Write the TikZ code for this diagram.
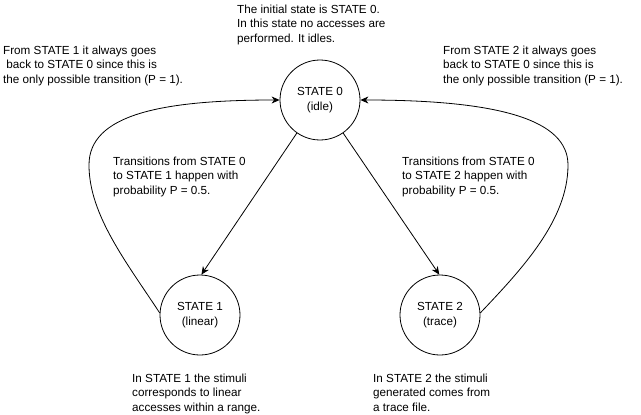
\documentclass[tikz,border=0pt]{standalone}
\usepackage{fontspec}
\setmainfont{Liberation Sans}
\usetikzlibrary{arrows.meta}
\begin{document}
\begin{tikzpicture}[x=1pt,y=-1pt,
  statenode/.style={draw,circle,minimum size=80pt,inner sep=0pt,line width=0.8pt,align=center,font=\fontsize{11.7}{14.5}\selectfont},
  note/.style={anchor=north west,inner sep=0pt,align=left,font=\fontsize{11.7}{14.3}\selectfont},
  arr/.style={line width=0.8pt,-{Stealth[length=8pt,width=7pt,inset=2.5pt]}}]
\useasboundingbox (0,0) rectangle (641,415);
\node[statenode] (s0) at (320,100) {STATE 0\\(idle)};
\node[statenode] (s1) at (200,315) {STATE 1\\(linear)};
\node[statenode] (s2) at (440,315) {STATE 2\\(trace)};
\node[note] (t0) at (237,5) {The initial state is STATE 0.\\In this state no accesses are\\performed. It idles.};
\node[note] (tl) at (3,46) {From STATE 1 it always goes\\\ back to STATE 0 since this is\\the only possible transition (P = 1).};
\node[note] (tr) at (443,46) {From STATE 2 it always goes\\back to STATE 0 since this is\\the only possible transition (P = 1).};
\node[note] (p1) at (113,157) {Transitions from STATE 0\\to STATE 1 happen with\\probability P = 0.5.};
\node[note] (p2) at (402,157) {Transitions from STATE 0\\to STATE 2 happen with\\probability P = 0.5.};
\node[note] (b1) at (132,374) {In STATE 1 the stimuli\\corresponds to linear\\accesses within a range.};
\node[note] (b2) at (373,374) {In STATE 2 the stimuli\\generated comes from\\a trace file.};
\draw[arr] (s0.235) -- (s1.88);
\draw[arr] (s0.305) -- (s2.91);
\draw[arr] (s1.177) .. controls (127,263) and (89,215) .. (89,165) .. controls (89,115) and (160,100) .. (s0.west);
\draw[arr] (s2.3) .. controls (522,269) and (568,220) .. (568,165) .. controls (568,120) and (500,100) .. (s0.east);
\end{tikzpicture}
\end{document}
